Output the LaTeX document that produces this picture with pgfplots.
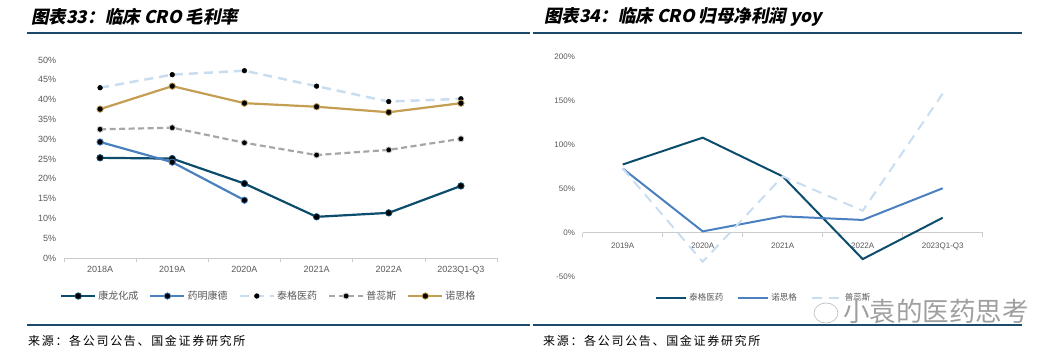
\documentclass[border=0pt]{standalone}
\usepackage{pgfplots}
\pgfplotsset{compat=1.18}
\usepackage{fontspec}
\setmainfont{Liberation Sans}
\newfontfamily\cjk{Noto Sans CJK SC}
\newfontfamily\cjksrc{Noto Sans CJK SC}[LetterSpace=14]
\newfontfamily\cjktitle{Noto Sans CJK SC}[FakeSlant=0.2]
\definecolor{navy}{HTML}{0C4C6C}
\definecolor{midblue}{HTML}{4A80C0}
\definecolor{lightblue}{HTML}{C9DDF0}
\definecolor{grayline}{HTML}{A6A6A6}
\definecolor{gold}{HTML}{C49E52}
\definecolor{rulecol}{HTML}{1B4A6B}
\definecolor{txtgray}{HTML}{595959}
\begin{document}
\begin{tikzpicture}[x=1pt,y=1pt]
\useasboundingbox (0pt,0pt) rectangle (1063pt,-356pt);
% titles and rules
\node[anchor=west,inner sep=0] at (31pt,-17pt) {\cjktitle\bfseries\fontsize{17.5}{19}\selectfont 图表33：临床 CRO 毛利率};
\node[anchor=west,inner sep=0] at (544pt,-17pt) {\cjktitle\bfseries\fontsize{17.5}{19}\selectfont 图表34：临床 CRO 归母净利润 yoy};
\draw[rulecol,line width=1.2pt] (27pt,-33pt) -- (530pt,-33pt);
\draw[rulecol,line width=1.2pt] (533pt,-33pt) -- (1022pt,-33pt);
\draw[rulecol,line width=1.2pt] (27pt,-325pt) -- (530pt,-325pt);
\draw[rulecol,line width=1.2pt] (533pt,-325pt) -- (1022pt,-325pt);
\node[anchor=west,inner sep=0] at (28pt,-341pt) {\cjksrc\fontsize{12}{14}\selectfont 来源：各公司公告、国金证券研究所};
\node[anchor=west,inner sep=0] at (543pt,-341pt) {\cjksrc\fontsize{12}{14}\selectfont 来源：各公司公告、国金证券研究所};

\pgfplotsset{
  myleg/.style={legend image code/.code={%
    \draw[mark repeat=2,mark phase=2] plot coordinates {(0pt,0pt) (17pt,0pt) (34pt,0pt)};}},
}

% left chart
\begin{axis}[
  at={(64pt,-258pt)}, anchor=south west,
  scale only axis, width=433pt, height=198pt,
  xmin=-0.5, xmax=5.5, ymin=0, ymax=50,
  axis lines*=left,
  x axis line style={draw=gray!40,line width=0.8pt,-},
  y axis line style={draw=none},
  xtick={0,...,5},
  xticklabels={2018A,2019A,2020A,2021A,2022A,2023Q1-Q3},
  major x tick style={draw=none},
  minor xtick={-0.5,0.5,...,5.5},
  minor x tick style={draw=gray!40,line width=0.6pt},
  minor tick length=4pt, tick align=outside,
  ytick={0,5,...,50},
  ytick style={draw=none},
  yticklabel={\pgfmathprintnumber{\tick}\%},
  /pgf/number format/assume math mode=true,
  ticklabel style={font=\fontsize{9}{10}\selectfont, text=txtgray},
  clip=false,
  legend style={draw=none, at={(0.473,-0.192)}, anchor=center,
    font=\cjk\fontsize{10}{12}\selectfont, text=txtgray,
    legend columns=5, /tikz/every even column/.append style={column sep=9pt},
    inner sep=0pt},
  myleg,
]
\addplot[navy, line width=2.2pt, mark=*, mark size=3.2pt, mark options={fill=black,draw=navy,line width=0.8pt}]
  coordinates {(0,25.3) (1,25.1) (2,18.8) (3,10.4) (4,11.4) (5,18.2)};
\addlegendentry{康龙化成}
\addplot[midblue, line width=2.2pt, mark=*, mark size=3.2pt, mark options={fill=black,draw=midblue,line width=0.8pt}]
  coordinates {(0,29.3) (1,24.2) (2,14.6)};
\addlegendentry{药明康德}
\addplot[lightblue, line width=2.5pt, dash pattern=on 9pt off 6pt, mark=*, mark size=2.4pt, mark options={fill=black,draw=black,solid,line width=0.4pt}]
  coordinates {(0,43.0) (1,46.3) (2,47.3) (3,43.4) (4,39.5) (5,40.2)};
\addlegendentry{泰格医药}
\addplot[grayline, line width=2.2pt, dash pattern=on 6pt off 3.5pt, mark=*, mark size=3pt, mark options={fill=black,draw=grayline!60,solid,line width=0.8pt}]
  coordinates {(0,32.5) (1,32.9) (2,29.1) (3,26.0) (4,27.3) (5,30.1)};
\addlegendentry{普蕊斯}
\addplot[gold, line width=2.2pt, mark=*, mark size=3.2pt, mark options={fill=black,draw=gold,line width=0.8pt}]
  coordinates {(0,37.6) (1,43.4) (2,39.1) (3,38.2) (4,36.8) (5,39.1)};
\addlegendentry{诺思格}
\end{axis}

% right chart
\begin{axis}[
  at={(582.7pt,-276.7pt)}, anchor=south west,
  scale only axis, width=400pt, height=220pt,
  xmin=-0.5, xmax=4.5, ymin=-50, ymax=200,
  axis x line=middle, axis y line=left,
  x axis line style={draw=gray!40,line width=0.8pt,-},
  y axis line style={draw=none},
  xtick={0,...,4},
  xticklabels={2019A,2020A,2021A,2022A,2023Q1-Q3},
  major x tick style={draw=none},
  minor xtick={-0.5,0.5,...,4.5},
  minor x tick style={draw=gray!40,line width=0.6pt},
  minor tick length=4pt, tick align=outside,
  xticklabel style={below, yshift=-2pt},
  ytick={-50,0,50,100,150,200},
  ytick style={draw=none},
  hide obscured y ticks=false, hide obscured x ticks=false,
  yticklabel={\pgfmathprintnumber{\tick}\%},
  /pgf/number format/assume math mode=true,
  ticklabel style={font=\fontsize{8}{9}\selectfont, text=txtgray},
  clip=false,
  legend style={draw=none, at={(0.453,-0.097)}, anchor=center,
    font=\cjk\fontsize{8.5}{10}\selectfont, text=txtgray,
    legend columns=3, /tikz/every even column/.append style={column sep=12pt},
    inner sep=0pt},
  legend image code/.code={\draw (0pt,0pt) -- (30pt,0pt);},
]
\addplot[navy, line width=2pt]
  coordinates {(0,77.5) (1,108) (2,64) (3,-30) (4,17)};
\addlegendentry{泰格医药}
\addplot[midblue, line width=2pt]
  coordinates {(0,73) (1,1.5) (2,18.6) (3,14.5) (4,50.5)};
\addlegendentry{诺思格}
\addplot[lightblue, line width=2pt, dash pattern=on 10pt off 7pt]
  coordinates {(0,73) (1,-33) (2,64) (3,25) (4,158)};
\addlegendentry{普蕊斯}
\end{axis}

% watermark
\node[anchor=west,inner sep=0,text=gray!75] at (843pt,-311pt) {\cjk\fontsize{26.5}{28}\selectfont 小袁的医药思考};
\draw[gray!55,line width=0.6pt] (826pt,-313pt) ellipse (12pt and 10pt);
\end{tikzpicture}
\end{document}
